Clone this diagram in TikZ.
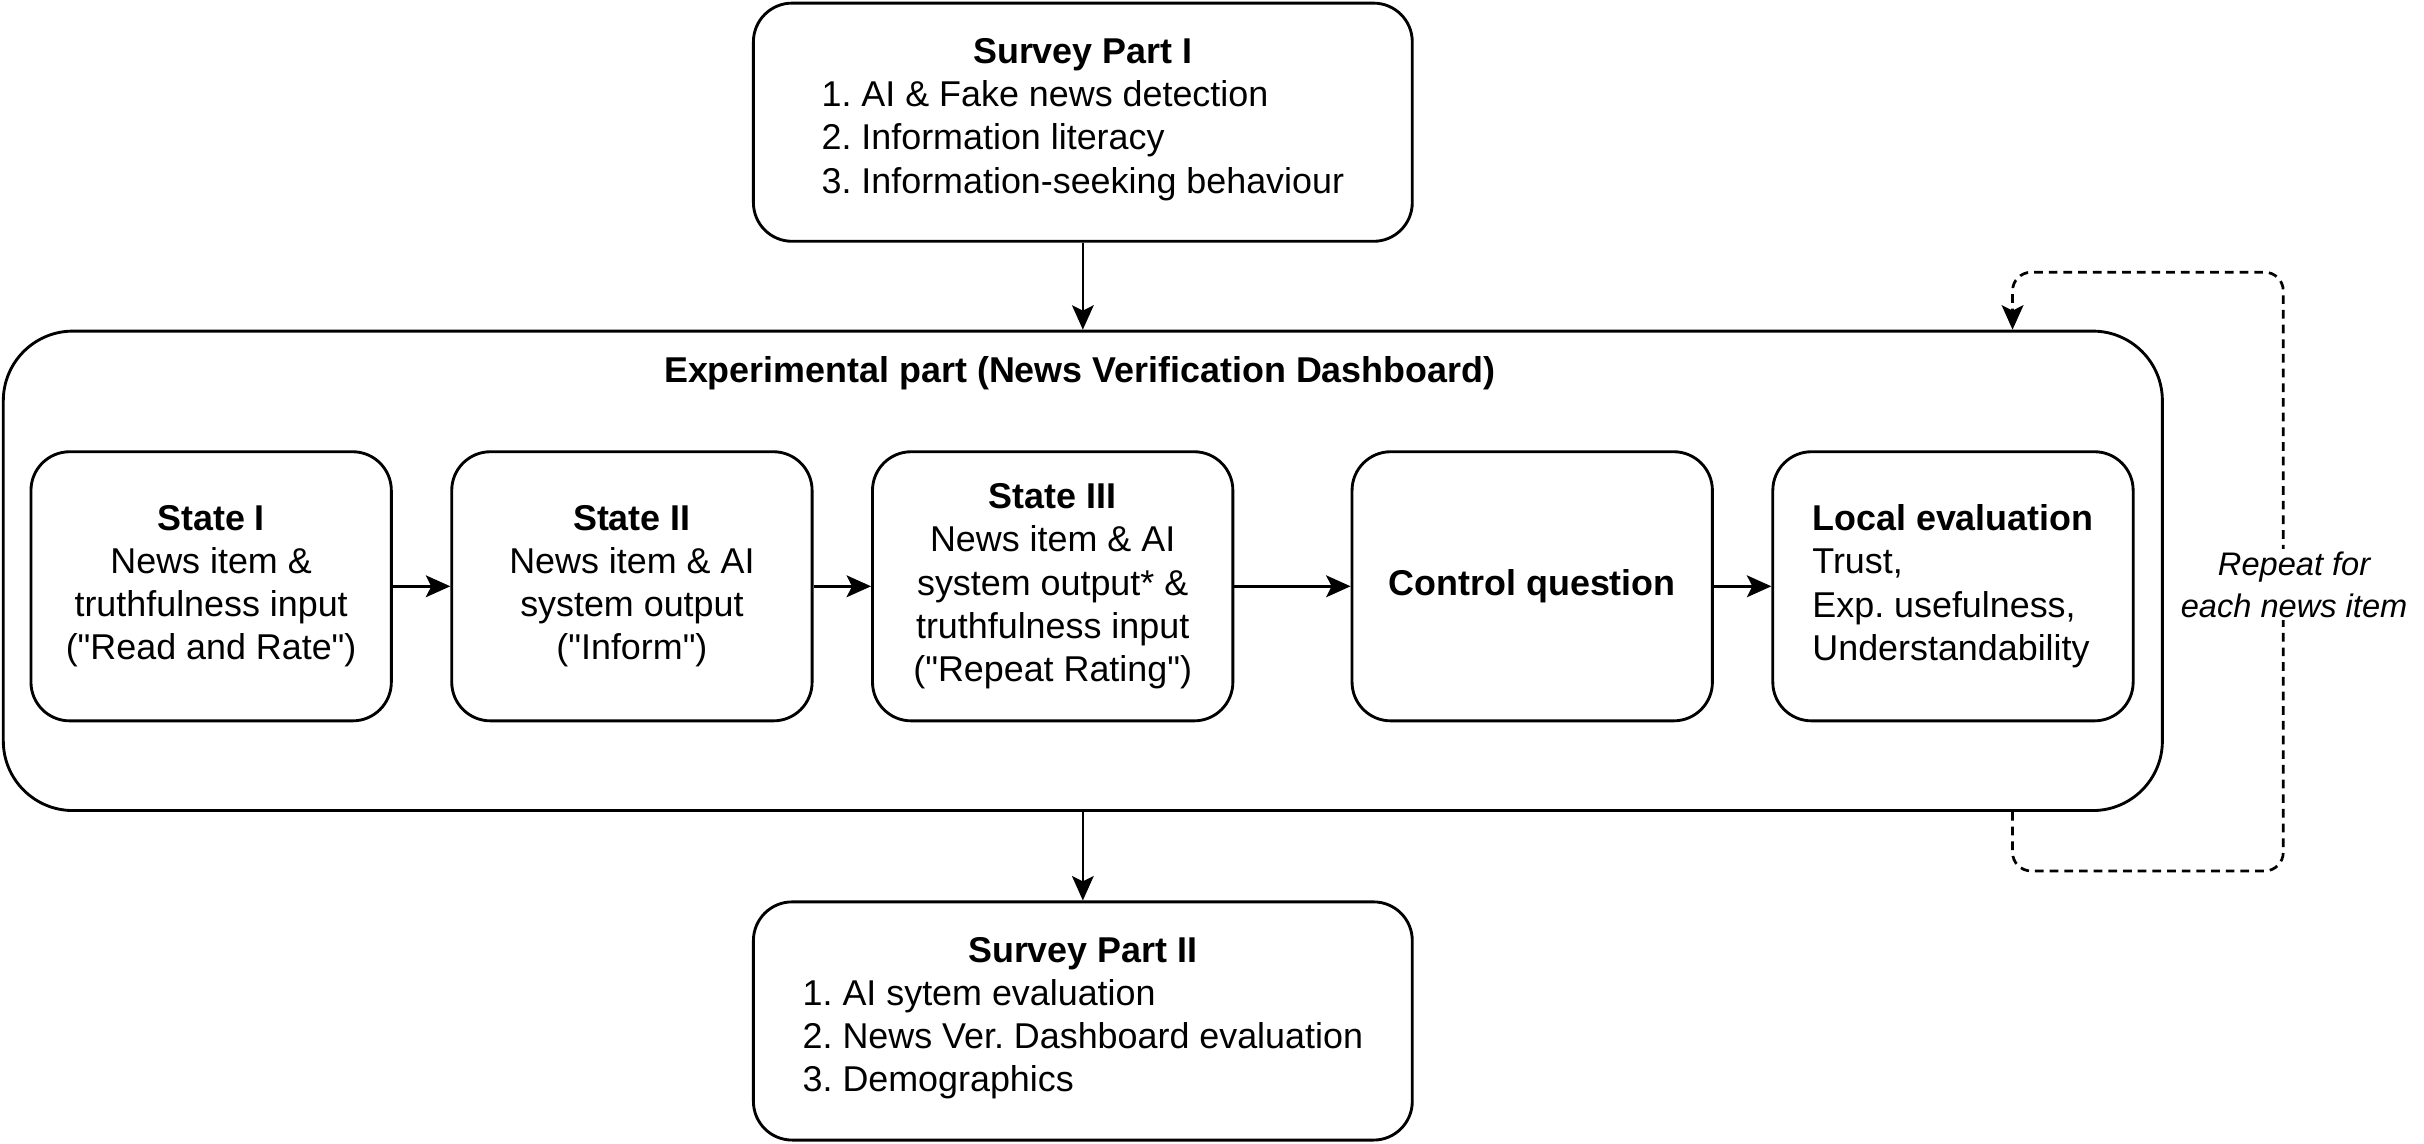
\documentclass[tikz,border=0pt]{standalone}
\usepackage{fontspec}
\setmainfont{Liberation Sans}
\usetikzlibrary{arrows.meta}
\newcommand*\itemlist[1]{\begin{tabular}[t]{@{}l@{}}#1\end{tabular}}
\newcommand*\quoted[1]{\textquotedbl#1\textquotedbl}
\frenchspacing

\begin{document}
\begin{tikzpicture}[x=0.02cm, y=-0.02cm,
  every node/.style={font=\fontsize{13.2}{15.9}\selectfont},
  surveybox/.style={draw, line width=1.05pt, rounded corners=0.5cm, minimum width=8.52cm, minimum height=3.08cm, align=center, inner sep=0pt},
  statebox/.style={draw, line width=1.05pt, rounded corners=0.5cm, minimum width=4.66cm, minimum height=3.48cm, align=center, inner sep=0pt},
  flow/.style={-{Stealth[length=9pt,width=8pt,inset=2pt]}, line width=1.05pt},
  thinflow/.style={-{Stealth[length=9pt,width=8pt,inset=2pt]}, line width=0.75pt},
  loopline/.style={-{Stealth[length=9pt,width=8pt,inset=2pt]}, line width=1pt, dash pattern=on 3.2pt off 2.2pt, rounded corners=0.24cm}]
\useasboundingbox (0,0) rectangle (1567,738.9);
\node[surveybox] (survey1) at (700,79) {\textbf{Survey Part I}\\\itemlist{1. AI \& Fake news detection\\2. Information literacy\\3. Information-seeking behaviour}};
\node[draw, line width=1.05pt, rounded corners=0.9cm, minimum width=27.92cm, minimum height=6.2cm] (exp) at (700,369) {};
\node (exptitle) at (698,241) {\textbf{Experimental part (News Verification Dashboard)}};
\node[statebox] (state1) at (136.5,379) {\textbf{State I}\\News item \&\\truthfulness input\\(\quoted{Read and Rate})};
\node[statebox] (state2) at (408.5,379) {\textbf{State II}\\News item \& AI\\system output\\(\quoted{Inform})};
\node[statebox] (state3) at (680.5,379) {\textbf{State III}\\News item \& AI\\system output* \&\\truthfulness input\\(\quoted{Repeat Rating})};
\node[statebox] (control) at (990.5,379) {\textbf{Control question}};
\node[statebox, align=left] (local) at (1262.5,379) {\textbf{Local evaluation}\\Trust,\\Exp. usefulness,\\Understandability};
\node[surveybox] (survey2) at (700,660) {\textbf{Survey Part II}\\\itemlist{1. AI sytem evaluation\\2. News Ver. Dashboard evaluation\\3. Demographics}};
\draw[thinflow] (survey1) -- (exp);
\draw[flow] (state1) -- (state2);
\draw[flow] (state2) -- (state3);
\draw[flow] (state3) -- (control);
\draw[flow] (control) -- (local);
\draw[thinflow] (exp) -- (survey2);
% repeat loop
\coordinate (loopout) at (1301,563);
\coordinate (loopbot) at (1476,563);
\coordinate (looptop) at (1476,176);
\coordinate (loopin) at (1301,176);
\draw[loopline] (exp.south -| loopout) -- (loopout) -- (loopbot) -- (looptop) -- (loopin) -- (exp.north -| loopin);
\node[fill=white, align=center, inner sep=1pt, font=\fontsize{12}{15.3}\selectfont\itshape] (repeat) at (1483,378) {Repeat for\\each news item};
\end{tikzpicture}
\end{document}
